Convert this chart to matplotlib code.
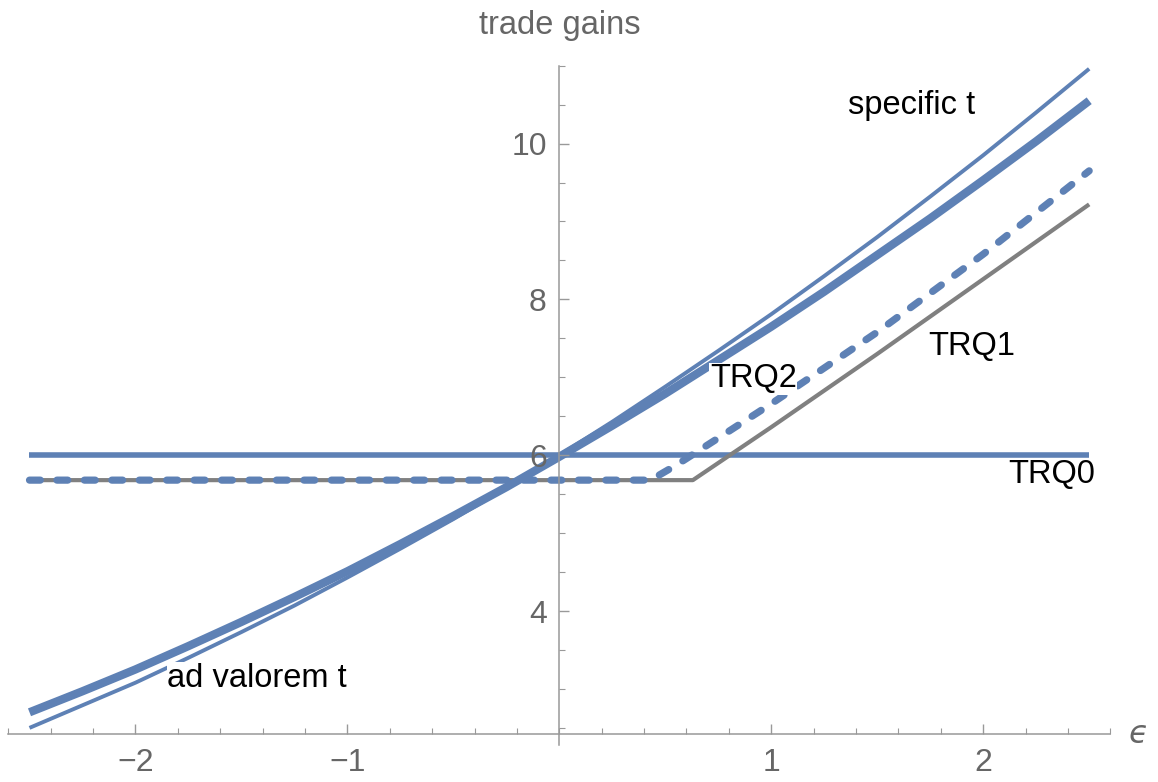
import matplotlib.pyplot as plt
from matplotlib.ticker import MultipleLocator, FixedLocator

plt.rcParams['font.family'] = ['Liberation Sans', 'DejaVu Sans']

# data
eps = [-2.5, -2.25, -2.0, -1.75, -1.5, -1.25, -1.0, -0.75, -0.5, -0.25, 0.0,
       0.25, 0.5, 0.75, 1.0, 1.25, 1.5, 1.75, 2.0, 2.25, 2.5]
specific_t = [2.50, 2.79, 3.08, 3.40, 3.73, 4.07, 4.43, 4.80, 5.18, 5.58, 6.00,
              6.43, 6.88, 7.34, 7.81, 8.30, 8.80, 9.32, 9.85, 10.40, 10.96]
ad_valorem_t = [2.70, 2.97, 3.25, 3.55, 3.86, 4.18, 4.51, 4.86, 5.22, 5.59, 5.98,
                6.38, 6.79, 7.22, 7.65, 8.10, 8.57, 9.04, 9.53, 10.03, 10.55]

trq0_eps = [-2.5, 2.5]
trq0 = [6.0, 6.0]

trq1_eps = [-2.5, 0.63, 1.0, 1.5, 2.0, 2.5]
trq1 = [5.68, 5.68, 6.36, 7.30, 8.26, 9.22]

trq2_eps = [-2.5, 0.43, 0.55, 0.75, 1.0, 1.5, 2.0, 2.5]
trq2 = [5.68, 5.68, 5.87, 6.22, 6.66, 7.58, 8.58, 9.65]

label_text = ['specific t', 'ad valorem t', 'TRQ0', 'TRQ1', 'TRQ2']
label_x = [1.36, -1.85, 2.12, 1.74, 0.71]
label_y = [10.49, 3.14, 5.75, 7.39, 6.98]

blue = '#5E81B5'
gray = '#808080'
axis_gray = '#999999'
text_gray = '#666666'

fig = plt.figure(figsize=(11.58, 7.82), dpi=100)
ax = fig.add_axes([0.00717, 0.0473, 0.9517, 0.8687])

ax.plot(trq0_eps, trq0, color=blue, lw=4.0, solid_capstyle='butt', zorder=2)
ax.plot(trq1_eps, trq1, color=gray, lw=3.0, solid_capstyle='butt', zorder=2.1)
ax.plot(trq2_eps, trq2, color=blue, lw=5.2, dashes=(1.5, 2.3),
        dash_capstyle='round', zorder=2.2)
ax.plot(eps, specific_t, color=blue, lw=2.8, solid_capstyle='butt', zorder=2.3)
ax.plot(eps, ad_valorem_t, color=blue, lw=6.0, solid_capstyle='butt', zorder=2.4)

for t, x, y in zip(label_text, label_x, label_y):
    ax.text(x, y, t, fontsize=23.5, color='black', ha='left', va='center',
            zorder=5, bbox=dict(facecolor='white', edgecolor='none', pad=0.5))

ax.set_xlim(-2.6, 2.6)
ax.set_ylim(2.28, 11)

# Mathematica-style axes
for s in ['top', 'right']:
    ax.spines[s].set_visible(False)
ax.spines['left'].set_position(('data', 0))
ax.spines['bottom'].set_position(('data', 2.415))
for s in ['left', 'bottom']:
    ax.spines[s].set_color(axis_gray)
    ax.spines[s].set_linewidth(1.1)
ax.set_axisbelow(False)

ax.xaxis.set_major_locator(FixedLocator([-2, -1, 1, 2]))
ax.xaxis.set_minor_locator(MultipleLocator(0.2))
ax.yaxis.set_major_locator(FixedLocator([4, 6, 8, 10]))
ax.yaxis.set_minor_locator(MultipleLocator(0.5))
ax.set_xticklabels(['\u22122', '\u22121', '1', '2'])
ax.tick_params(axis='both', which='major', direction='in', length=7.5, width=1.0,
               color=axis_gray, labelcolor=text_gray, labelsize=23)
ax.tick_params(axis='both', which='minor', direction='in', length=4.5, width=0.8,
               color=axis_gray)
ax.tick_params(axis='x', which='major', pad=10)
ax.tick_params(axis='y', which='major', pad=9)

ax.text(0, 11.52, 'trade gains', fontsize=23.5, color=text_gray,
        ha='center', va='center', clip_on=False)
ax.text(2.73, 2.415, '\u03f5', fontsize=23, color=text_gray, style='italic',
        ha='center', va='center', clip_on=False, family=['DejaVu Sans'])

fig.savefig('out.png', dpi=100)
